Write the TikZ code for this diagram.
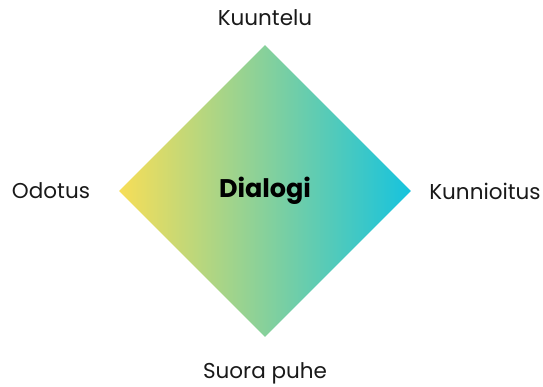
\documentclass[tikz,border=0pt]{standalone}
\usepackage{fontspec}
\setmainfont{Poppins}
\usetikzlibrary{shapes.geometric}

\definecolor{dlgyellow}{RGB}{247,222,88}
\definecolor{dlggreen}{RGB}{150,212,140}
\definecolor{dlgcyan}{RGB}{22,195,222}
\definecolor{dlgtext}{RGB}{25,25,25}

\begin{document}
\begin{tikzpicture}[
    x=1pt, y=1pt,
    rhomb/.style={
        diamond,
        aspect=1,
        inner sep=0pt,
        minimum width=292pt,
        minimum height=292pt,
        left color=dlgyellow,
        middle color=dlggreen,
        right color=dlgcyan,
        font=\fontsize{25.5}{28}\selectfont\bfseries,
        text=black
    },
    corner/.style={
        font=\fontsize{21.5}{24}\selectfont,
        text=dlgtext,
        inner sep=0pt
    }
]

\useasboundingbox (0,0) rectangle (543,387);

\node[rhomb] (dialog) at (265,196) {Dialogi};

\node[corner] (listen) at (265,369) {Kuuntelu};
\node[corner] (wait) at (51,196) {Odotus};
\node[corner] (respect) at (485,196) {Kunnioitus};
\node[corner] (speech) at (265,14) {Suora puhe};

\end{tikzpicture}
\end{document}
